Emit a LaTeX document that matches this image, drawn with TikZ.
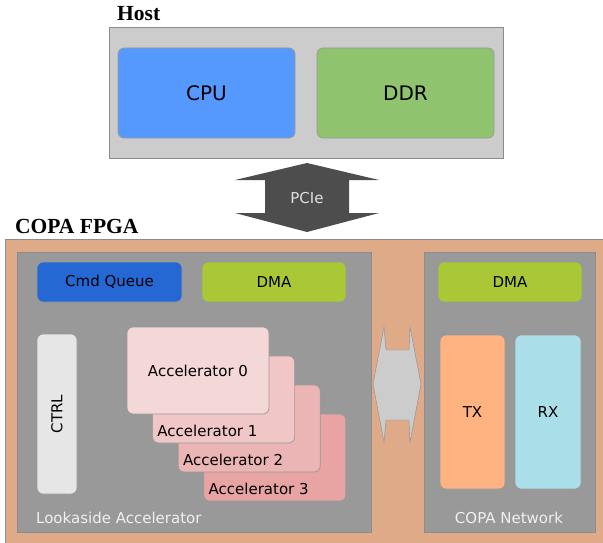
\documentclass[tikz,border=0pt]{standalone}
\usepackage{fontspec}
\newfontfamily\boxfont{DejaVu Sans}
\newfontfamily\titlefont{Liberation Serif}
\definecolor{hostgrey}{HTML}{CCCCCC}
\definecolor{cpublue}{HTML}{5599FF}
\definecolor{ddrgreen}{HTML}{8FC36D}
\definecolor{pciegrey}{HTML}{4D4D4D}
\definecolor{fpgatan}{HTML}{DEAA87}
\definecolor{blockgrey}{HTML}{999999}
\definecolor{cmdblue}{HTML}{2568D4}
\definecolor{dmagreen}{HTML}{AAC836}
\definecolor{ctrlgrey}{HTML}{E6E6E6}
\definecolor{acc0}{HTML}{F4D7D7}
\definecolor{acc1}{HTML}{F0C6C6}
\definecolor{acc2}{HTML}{ECB5B5}
\definecolor{acc3}{HTML}{E8A3A3}
\definecolor{txorange}{HTML}{FFB380}
\definecolor{rxblue}{HTML}{AADEE8}
\tikzset{
  block/.style={draw=black!40, line width=0.7pt, rounded corners=6pt, inner sep=0pt, font=\boxfont\fontsize{15}{18}\selectfont},
  region/.style={draw=black!45, line width=0.8pt},
  caption/.style={inner sep=0pt, text=black!6, font=\boxfont\fontsize{15}{18}\selectfont},
  title/.style={inner sep=0pt, anchor=base west, font=\titlefont\bfseries\fontsize{21.5}{24}\selectfont}
}

\begin{document}
\begin{tikzpicture}[x=1pt, y=-1pt]
\useasboundingbox (0,0) rectangle (603,543);
% host side
\node[title] (hosttitle) at (117,21) {Host};
\draw[region, fill=hostgrey] (109,27) rectangle (503,158);
\node[name=cpu, block, fill=cpublue, minimum width=177pt, minimum height=90pt, font=\boxfont\fontsize{20}{24}\selectfont] at (206.5,93) {CPU};
\node[name=ddr, block, fill=ddrgreen, minimum width=177pt, minimum height=90pt, font=\boxfont\fontsize{20}{24}\selectfont] at (405.5,93) {DDR};
% PCIe link
\fill[pciegrey] (307,163) -- (379,180) -- (349,180) -- (349,213) -- (379,213) -- (307,232)
  -- (235,213) -- (265,213) -- (265,180) -- (235,180) -- cycle;
\node[caption, text=black!12] (pcie) at (307,198) {PCIe};
% FPGA side
\node[title] (fpgatitle) at (15,233) {COPA FPGA};
\draw[region, fill=fpgatan] (5,239) rectangle (610,550);
\draw[region, fill=blockgrey] (17,252) rectangle (371,532);
\draw[region, fill=blockgrey] (424,252) rectangle (595,532);
\node[name=cmdq, block, fill=cmdblue, minimum width=145pt, minimum height=40pt] at (109.5,282) {Cmd Queue};
\node[name=dma, block, fill=dmagreen, minimum width=144pt, minimum height=40pt] at (274,282) {DMA};
\node[name=ctrl, block, fill=ctrlgrey, rotate=90, minimum width=160pt, minimum height=40pt] at (57,414) {CTRL};
\foreach \i in {3,2,1}
  \node[name=acc\i, block, fill=acc\i, minimum width=142pt, minimum height=87pt] at (198+25.6*\i,370.5+29*\i) {};
\node[name=acc0, block, fill=acc0, minimum width=142pt, minimum height=87pt] at (198,370.5) {Accelerator 0};
\foreach \i in {1,2,3}
  \node[anchor=west, inner sep=0pt, font=\boxfont\fontsize{15}{18}\selectfont] (acclabel\i) at ([xshift=5pt, yshift=12pt]acc\i.south west) {Accelerator \i};
\node[caption, anchor=west] (lookaside) at (36,518) {Lookaside Accelerator};
% network side
\node[name=netdma, block, fill=dmagreen, minimum width=144pt, minimum height=40pt] at (510,282) {DMA};
\node[name=tx, block, fill=txorange, minimum width=65pt, minimum height=154pt] at (472.5,412) {TX};
\node[name=rx, block, fill=rxblue, minimum width=66pt, minimum height=154pt] at (548,412) {RX};
\node[caption] (network) at (509,518) {COPA Network};
% on-chip link
\draw[draw=black!45, fill=hostgrey] (373,384) -- (384,327) -- (386,350) -- (409,350) -- (410,327) -- (421,384)
  -- (410,442) -- (409,420) -- (386,420) -- (384,442) -- cycle;
\end{tikzpicture}
\end{document}
